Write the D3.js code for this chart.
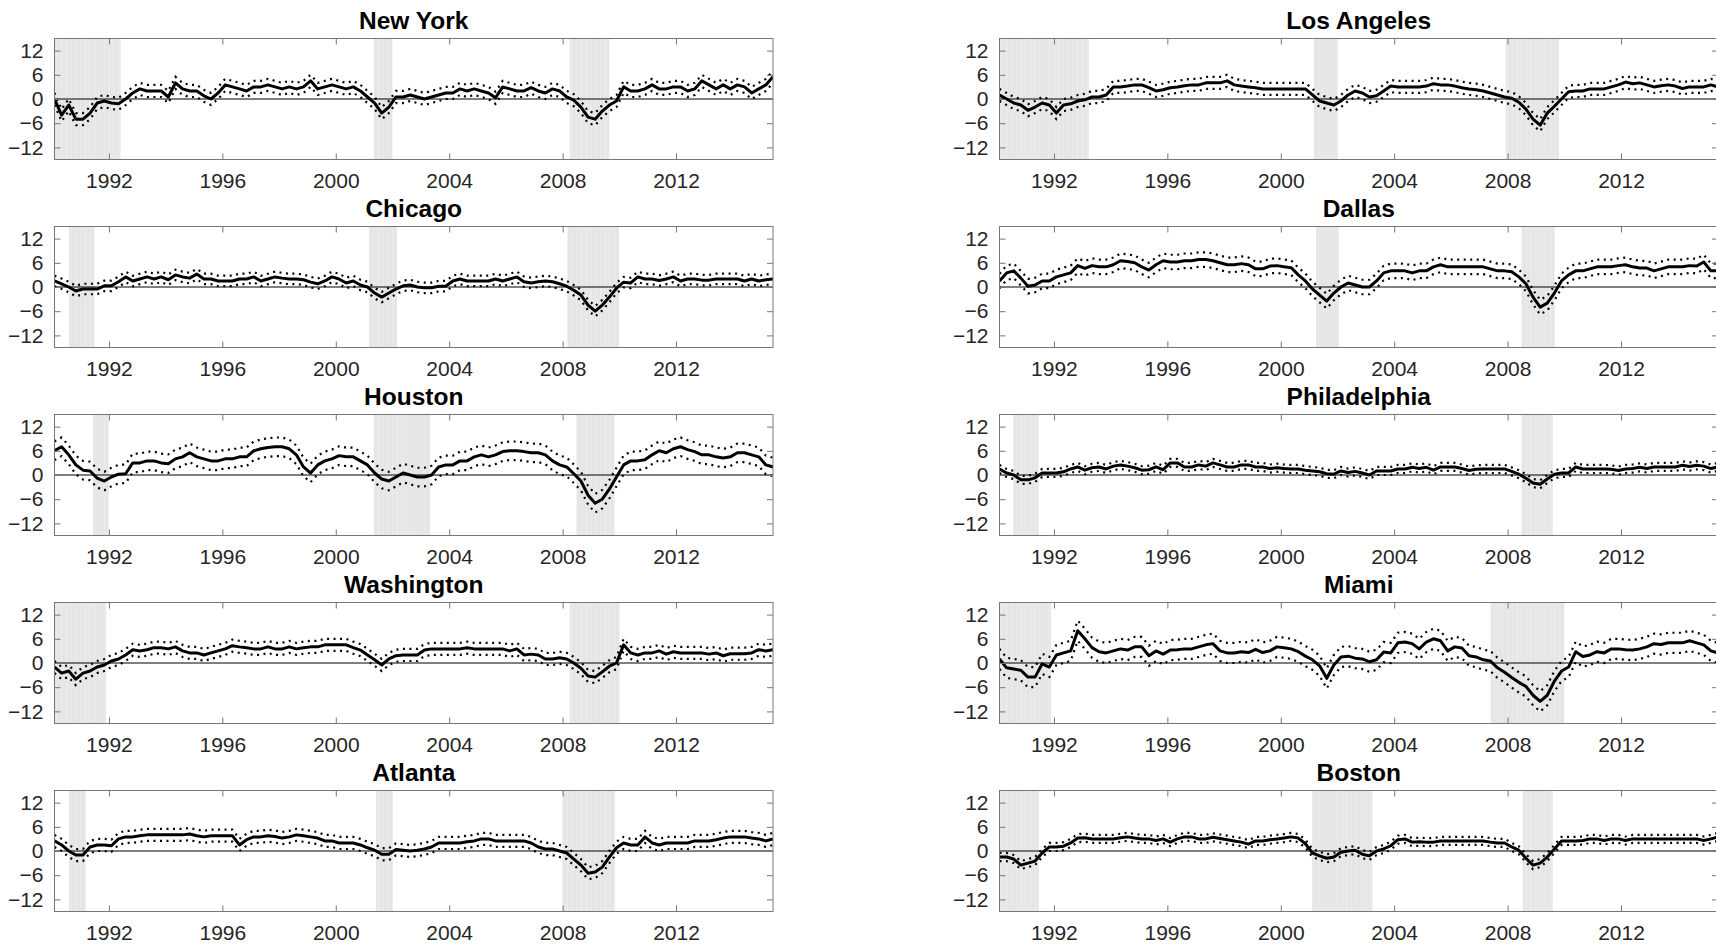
<!DOCTYPE html>
<html><head><meta charset="utf-8">
<script src="https://cdn.jsdelivr.net/npm/d3@7"></script>
<style>
body{margin:0;background:#fff;}
svg{display:block;}
text{font-family:"Liberation Sans",Arial,Helvetica,sans-serif;}
</style>
</head><body>
<svg id="chart" width="1716" height="947"></svg>
<script>
// ---------- data (quarterly readings, 1990:Q1 .. 2015:Q2) ----------
const cityNames = ["New York","Los Angeles","Chicago","Dallas","Houston","Philadelphia","Washington","Miami","Atlanta","Boston"];
const xTicks = [1992,1996,2000,2004,2008,2012];
const yTicks = [-12,-6,0,6,12];
const dateStart = 1990.08, dateEnd = 2015.42;

const newYork = [0,-4,-1.5,-5,-5,-3.5,-1,-0.5,-1,-1.2,
0,1.5,2.5,2,2,2,0.5,4,2.5,2,
2,0.8,0,1.5,3.5,3,2.5,2,3,3,
3.5,3,2.5,3,2.5,3,4.5,2.5,3,3.5,
3,2.5,3,2,0.5,-1,-3.5,-2,0.5,0.5,
1,0.5,0,0.5,1,1.5,1.5,2.5,2,2.5,
2,1.5,0.3,3,2.5,2,2,2.8,2,1.5,
2.5,2,0.5,-0.3,-2,-4.5,-5,-3,-1.5,-0.5,
3,2,2,2.5,3.5,2.5,2.5,3,3,2,
2.5,4.5,3.5,2.5,3.5,2.5,3.5,3,1.5,2.5,
3.5,5.5];
const losAngeles = [1,0,-1,-1.5,-2.8,-2,-1,-1.5,-3.5,-1.5,
-1.2,-0.5,-0.2,0.5,0.5,1,3,3,3.2,3.5,
3.5,2.8,2,2.3,2.8,3,3.3,3.5,3.5,4,
4,4,4.5,3.5,3.2,3,2.8,2.5,2.5,2.5,
2.5,2.5,2.5,2.5,1,-0.5,-1,-1.5,-0.5,1,
2,1.5,0.5,0.8,2,3.2,3,3,3,3,
3.2,3.8,3.5,3.5,3.2,2.8,2.5,2.3,2,1.5,
1,0.5,0.2,-0.8,-2.5,-5,-6.5,-3.5,-1.8,0,
1.8,2,2,2.5,2.5,2.5,3,3.5,4.2,3.8,
4,3.5,3,3.3,3.5,3.2,2.6,3,3,3,
3.5,3];
const chicago = [1.5,0.8,0,-1,-0.5,-0.5,-0.5,0.3,0.3,1.3,
2.5,1.5,2,2.5,2,2.5,1.8,3,2.5,2.2,
3.2,2,2,1.5,1.5,1.5,2,2,2.5,1.5,
2,2.5,2.2,2,2,1.8,1.2,0.8,1.5,2.5,
2,1,1.5,0.5,0,-1.5,-2.5,-1.5,-0.5,0.3,
0.5,0,-0.2,-0.2,0.2,0.2,1.5,2,1.5,1.5,
1.5,1.5,2,1.5,2,2.5,1.3,1,1.3,1.5,
1.3,0.8,0.2,-0.8,-2,-4.5,-6,-4.5,-2.5,-0.3,
1.2,1,2.5,2,2,1.6,2,2.5,1.5,2,
2,1.7,1.7,2,2,2,2,1.5,2,1.5,
1.8,2];
const dallas = [1.5,3.5,4,2.2,0.2,0.5,1.5,1.5,2.5,3,
3.5,5.3,4.6,5.3,5,5,5.5,6.5,6.3,6,
5,4.2,5.5,6.5,6.2,6.2,6.5,6.5,6.8,6.8,
6.5,6,5.5,5.5,5.8,5.5,4.5,4.5,5.2,5.3,
5,4.8,3,1.5,-0.5,-2,-3.5,-1.5,0,1,
0.5,0,0,1.5,3.5,4,4,4,3.5,4,
4,5,5.5,5,5,5,5,5,5,4.5,
4,4,3.8,2.5,0.8,-2.5,-5,-4,-1.5,1.5,
3,4,4,4.5,5,5,5,5.3,5.5,5,
4.7,4.7,4,4.5,5,5,5,5.3,5.2,6.2,
4,4];
const houston = [6,7,5,2.5,1.2,1,-0.8,-1.5,-0.5,0.2,
0.3,3,3,3.5,3.5,3,2.8,4,4.5,5.5,
4.5,4,3.5,3.5,4,4,4.5,4.5,6,6.5,
6.8,7,7,6.5,5,2,0.5,2.5,3.5,4,
4.8,4.5,4.5,3.5,2.5,0.5,-1,-1.5,-0.5,0.5,
0,-0.5,-0.5,0,2,2.5,2.5,3.5,3.5,4.5,
5,4.5,5,5.8,6,6,5.8,5.5,5.5,5,
3.5,2.5,2,0.3,-1.5,-5,-7,-6,-3.5,-0.5,
2.5,3.5,3.5,3.8,5,6,5.5,6.5,7,6.3,
5.8,5,5,4.5,4.2,4.5,5.5,5.5,5,4.5,
2.5,2];
const philadelphia = [1.5,0.5,0,-1.2,-1.2,-0.7,0.5,0.5,0.5,0.8,
1.5,2,1.2,1.8,2,1.5,2.2,2.5,2.2,1.8,
1.2,1.3,2,1.3,3,3,2,2,2.5,2.2,
3,2.5,2,2,2.5,2.5,2,2,1.6,1.8,
1.6,1.5,1.5,1.2,1,0.8,0.3,0.2,1,0.6,
0.9,0.5,0,1,1,1,1.5,1.5,1.9,1.6,
1.9,1.2,2,2,2,1.6,1.1,1.4,1.5,1.5,
1.5,1.5,0.9,0.2,-0.8,-2,-2.3,-1,0.2,0.5,
0.5,2,1.5,1.5,1.5,1.5,1.4,1.1,1.5,1.6,
1.9,1.6,2,2,2,2,2.4,2.1,2.4,2.2,
1.6,2];
const washington = [-1,-2.5,-2,-4,-2.5,-2,-1,-0.5,0.5,1,
2,3.3,3,3.3,3.8,3.8,3.5,4,3,2.5,
2.5,2,2.5,3,3.5,4.3,4,3.8,3.5,3.5,
4,3.5,3.5,4,3.5,3.8,4,4,4.5,4.5,
4.5,4.5,3.8,3.2,2,0.8,-0.5,1,1.8,2,
2,2,3.2,3.5,3.5,3.5,3.5,3.5,3.8,3.5,
3.5,3.5,3.5,3.5,3,3.5,2,2.2,2,1,
1,1.3,1,0,-1.3,-3.2,-3.5,-2.2,-0.8,0,
4.5,2.5,2,2.5,2.5,3,2.2,2.8,2.5,2.5,
2.5,2.5,2.2,2.5,1.8,2.3,2.3,2.3,2.5,3.3,
3,3.3];
const miami = [1,-1.2,-1.5,-1.8,-3.5,-3.5,-0.2,-1,2,2.5,
3,8,6,3.8,2.8,2.5,3,3.5,3.2,4,
4,1.8,3,2.2,3.2,3.3,3.5,3.5,4,4.5,
4.8,3,2.5,2.5,2.8,2.6,3.4,2.6,3,4,
3.8,3.5,2.8,1.7,0.8,-0.7,-3.8,-0.5,1.5,1.7,
1.2,1,0.3,0.8,2.7,2.5,5,5.2,4.8,3.5,
5.2,6,5.5,3,4,3.7,1.8,1.5,0.8,0.5,
-1.2,-2.3,-3.6,-4.8,-5.8,-8,-9.5,-8,-4.5,-2,
-1,2.8,1.6,2,2.8,2.5,3.5,3.5,3.3,3.2,
3.5,4,4.8,4.6,5,5,5,5.5,5,4.5,
3,2.5];
const atlanta = [2.5,1.5,0,-1,-1,1,1.5,1.5,1.3,3,
3.5,3.5,3.8,4,4,4,4,4,4,4.2,
3.8,3.5,3.8,3.8,3.8,3.8,1.5,2.8,3.5,3.5,
3.8,3.6,3.2,3.5,4,3.8,3.5,3.2,2.5,2.5,
2,2,2,1.5,0.8,0.2,-0.8,-0.8,0.4,0.2,
0,0.2,0.5,1,2,2,2,2,2.3,2.5,
3,3,2.5,2.5,2.5,2.5,2.5,2,1,0.5,
0.5,0,-0.5,-2,-3.5,-5.5,-5.2,-4,-1.5,0.8,
2,1.5,1.5,3.5,2,1.5,2,2,2,2,
2.5,2.5,2.5,2.8,3.2,3.5,3.5,3.5,3.2,3,
2.5,3];
const boston = [-1.5,-1.5,-2,-3.5,-3,-2.5,-0.5,1,1,1.2,
2,3.2,3.3,3,3,3,3,3.3,3.5,3.2,
3,3,2.6,3,2.2,3,3.5,3.5,3,3,
3.4,3.1,2.8,2.5,2.2,1.7,2.5,2.5,2.8,3,
3.2,3.5,3.2,1.8,-0.5,-1.2,-1.8,-1.5,-0.3,0,
0.2,-0.8,-1.2,0,0.5,1.3,2.8,3,2.2,2.3,
2.2,2.2,2.5,2.5,2.5,2.5,2.5,2.5,2.5,2.2,
2,2,1,0.2,-1.8,-3.5,-3,-1.5,0.5,2.5,
2.5,2.5,2.6,3,3,2.6,3,3,2.6,3,
3,3,3,3,3,3,3,3,3,2.6,
3,3.5];

// half-width of the dotted band around each city's median
const bandHalfWidth = [1.5,1.5,1.3,1.8,2.3,1.0,1.5,2.5,1.5,1.0];

// shaded (recession) periods, in years
const shadeNewYork = [[1990.08,1992.41],[2001.35,2002.0],[2008.25,2009.65]];
const shadeLosAngeles = [[1990.08,1993.23],[2001.17,2002.0],[2007.93,2009.81]];
const shadeChicago = [[1990.59,1991.49],[2001.17,2002.16],[2008.17,2009.99]];
const shadeDallas = [[2001.25,2002.05],[2008.5,2009.66]];
const shadeHouston = [[1991.44,1991.99],[2001.34,2003.33],[2008.5,2009.83]];
const shadePhiladelphia = [[1990.57,1991.46],[2008.5,2009.59]];
const shadeWashington = [[1990.08,1991.9],[2008.25,2010.0]];
const shadeMiami = [[1990.08,1991.9],[2007.4,2010.0]];
const shadeAtlanta = [[1990.59,1991.18],[2001.42,2002.01],[2008.0,2009.84]];
const shadeBoston = [[1990.08,1991.47],[2001.1,2003.23],[2008.53,2009.59]];

const seriesList = [newYork,losAngeles,chicago,dallas,houston,philadelphia,washington,miami,atlanta,boston];
const shadeList = [shadeNewYork,shadeLosAngeles,shadeChicago,shadeDallas,shadeHouston,shadePhiladelphia,shadeWashington,shadeMiami,shadeAtlanta,shadeBoston];

// ---------- layout ----------
const svg = d3.select("#chart");
const W = 718.5, H = 121;
const colX = [54.5, 999.5];
const rowY = [38.5, 226.5, 414.5, 602.5, 790.5];
const fontFam = '"Liberation Sans",Arial,Helvetica,sans-serif';

cityNames.forEach((name, k) => {
  const col = k % 2, row = Math.floor(k / 2);
  const vals = seriesList[k];
  const n = vals.length;
  const dates = vals.map((v, i) => dateStart + i * (dateEnd - dateStart) / (n - 1));
  const x = d3.scaleLinear().domain([dateStart, dateEnd]).range([0, W]);
  const y = d3.scaleLinear().domain([-15, 15]).range([H, 0]);
  const g = svg.append("g").attr("transform", `translate(${colX[col]},${rowY[row]})`);

  const clipId = "clip" + k;
  g.append("clipPath").attr("id", clipId).append("rect").attr("width", W).attr("height", H);
  const plot = g.append("g").attr("clip-path", `url(#${clipId})`);

  // shading with faint stripes
  shadeList[k].forEach(([a, b]) => {
    plot.append("rect")
      .attr("x", x(a)).attr("y", 0)
      .attr("width", x(b) - x(a)).attr("height", H)
      .attr("fill", "#e6e6e6");
    const months = d3.range(Math.ceil(a * 12 / 2) * 2 / 12, b, 2 / 12);
    plot.selectAll(null).data(months).enter().append("line")
      .attr("x1", d => x(d)).attr("x2", d => x(d))
      .attr("y1", 0).attr("y2", H)
      .attr("stroke", "#eeeeee").attr("stroke-width", 0.8);
  });

  // zero line
  plot.append("line").attr("x1", 0).attr("x2", W)
    .attr("y1", y(0)).attr("y2", y(0))
    .attr("stroke", "#000").attr("stroke-width", 1);

  const w = bandHalfWidth[k];
  const lineMid = d3.line().x((d, i) => x(dates[i])).y(d => y(d));
  const lineUp = d3.line().x((d, i) => x(dates[i])).y(d => y(d + w));
  const lineLo = d3.line().x((d, i) => x(dates[i])).y(d => y(d - w));

  [lineUp, lineLo].forEach(fn => {
    plot.append("path").datum(vals).attr("d", fn)
      .attr("fill", "none").attr("stroke", "#000")
      .attr("stroke-width", 2.2).attr("stroke-dasharray", "2 4.5");
  });
  plot.append("path").datum(vals).attr("d", lineMid)
    .attr("fill", "none").attr("stroke", "#000")
    .attr("stroke-width", 3).attr("stroke-linejoin", "round");

  // axes (ticks inside, box)
  const axColor = "#767676";
  const styleAxis = sel => {
    sel.select(".domain").remove();
    sel.selectAll(".tick line").attr("stroke", axColor);
    sel.selectAll(".tick text").attr("fill", "#262626").style("font-size", "21px")
      .style("font-family", fontFam);
  };
  g.append("g").attr("transform", `translate(0,${H})`)
    .call(d3.axisBottom(x).tickValues(xTicks).tickFormat(d3.format("d")).tickSize(-6).tickPadding(14))
    .call(styleAxis);
  g.append("g")
    .call(d3.axisTop(x).tickValues(xTicks).tickFormat("").tickSize(-6))
    .call(styleAxis);
  g.append("g")
    .call(d3.axisLeft(y).tickValues(yTicks).tickSize(-6).tickPadding(11))
    .call(styleAxis);
  g.append("g").attr("transform", `translate(${W},0)`)
    .call(d3.axisRight(y).tickValues(yTicks).tickFormat("").tickSize(-6))
    .call(styleAxis);
  g.append("rect").attr("width", W).attr("height", H)
    .attr("fill", "none").attr("stroke", axColor).attr("stroke-width", 1);

  // title
  g.append("text").attr("x", W / 2).attr("y", -10)
    .attr("text-anchor", "middle")
    .style("font-size", "24.5px").style("font-weight", "bold").attr("fill", "#000")
    .style("font-family", fontFam)
    .text(name);
});
</script>
</body></html>
